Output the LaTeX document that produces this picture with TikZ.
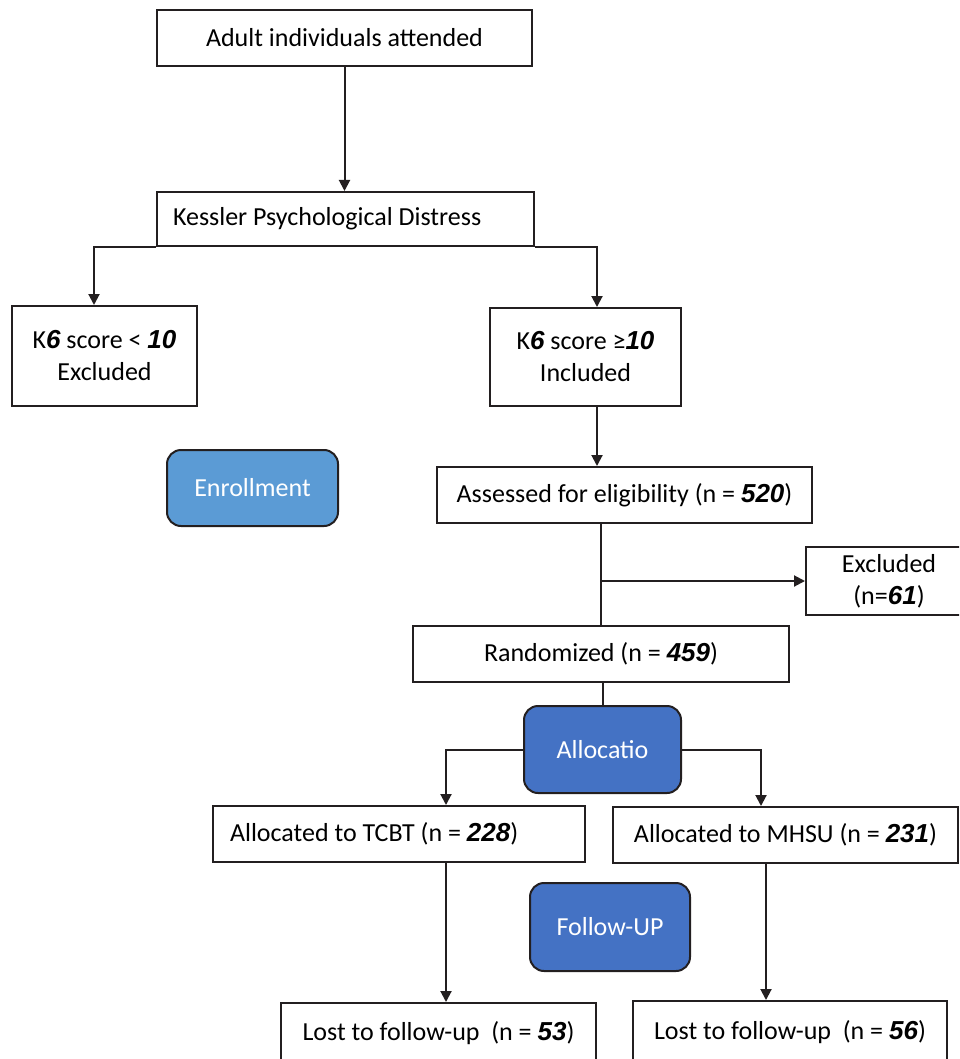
\documentclass[tikz,border=0pt]{standalone}
\usepackage{fontspec}
\setmainfont{Carlito}
\newfontfamily\numfont{Liberation Sans}
\usetikzlibrary{arrows.meta, positioning, calc}
\definecolor{dline} {RGB}{ 35, 31, 32}
\definecolor{lblue} {RGB}{ 91,155,213}
\definecolor{dblue} {RGB}{ 68,114,196}
\newcommand{\nb}[1]{{\numfont\bfseries\itshape #1}}
\tikzset{
  % plain white box
  WB/.style={rectangle,draw=dline,fill=white,minimum width=#1,
             align=center,inner sep=2pt,line width=1pt,
             font=\fontsize{13}{16}\selectfont},
  WB/.default=150pt,
  % blue stage label
  BL/.style={rectangle,rounded corners=7pt,draw=dline,fill=#1,
             text=white,align=center,line width=1pt,
             font=\fontsize{13}{16}\selectfont},
  BL/.default=dblue,
  % arrows
  Arr/.style ={-{Triangle[length=5.5pt,width=5.5pt]},line width=1pt,color=dline},
  Lin/.style ={line width=1.4pt,color=dline},
}
\begin{document}
\begin{tikzpicture}[x=0.5pt,y=-0.5pt]
  \useasboundingbox (0,0) rectangle (959,1059);
  \clip (0,0) rectangle (959,1059);
      \node[WB=187.5pt,minimum height=28pt] at (344.5,38) (adult)
            {Adult individuals attended};
      \node[WB,text width=172.5pt,align=flush left,inner xsep=8pt,
            minimum height=27pt] at (345.5,219) (kess)
            {Kessler Psychological Distress};
      \draw[Arr] (adult.south) -- (adult.south |- kess.north);
      \node[WB=92.5pt,minimum height=50pt] at (104.5,356) (low)
            {K\nb{6} score < \nb{10}\\Excluded};
      \node[WB=95.5pt,minimum height=49pt] at (585.5,357) (high)
            {K\nb{6} score ≥\nb{10}\\Included};
      \draw[Arr] (kess.south west) -| ($(low.north)+(-10.5,0)$);
      \draw[Arr] (kess.south east) -| ($(high.north)+(11.5,0)$);
      \node[BL=lblue,minimum width=85.5pt,minimum height=38pt]
            at (252.5,488) (enrol) {Enrollment};
      \node[WB=187.5pt,minimum height=28pt] at (624.5,495) (assess)
            {Assessed for eligibility (n = \nb{520})};
      \coordinate (hs) at ($(high.south)+(11.5,0)$);
      \draw[Arr] (hs) -- (hs |- assess.north);
      \node[WB=83pt,minimum height=34pt] at (889,581) (excl)
            {Excluded\\(n=\nb{61})};
      \node[WB=188pt,minimum height=28pt] at (601,654) (rand)
            {Randomized (n = \nb{459})};
      \draw[Lin] (rand.north |- assess.south) -- (rand.north);
      \draw[Arr] (rand.north |- excl.west) -- (excl.west);
      \node[BL,minimum width=78.5pt,minimum height=43.5pt]
            at (602.5,749.5) (alloc) {Allocatio};
      \draw[Lin,line width=1pt] (alloc.north |- rand.south) -- (alloc.north);
      \node[WB,text width=169pt,align=flush left,inner xsep=8.5pt,
            minimum height=28pt] at (399,834) (tcbt)
            {Allocated to TCBT (n = \nb{228})};
      \node[WB=172.5pt,minimum height=28pt] at (785.5,835) (mhsu)
            {Allocated to MHSU (n = \nb{231})};
      \draw[Arr] (alloc.west) -| ($(tcbt.north)+(47,0)$);
      \draw[Arr] (alloc.east) -| ($(mhsu.north)+(-24.5,0)$);
      \node[BL,minimum width=80pt,minimum height=44pt]
            at (610,927) (follow) {Follow-UP};
      \node[WB=157.5pt,minimum height=30.5pt] at (438.5,1033.5) (lost1)
            {Lost to follow-up~ (n = \nb{53})};
      \node[WB=157pt,minimum height=31pt] at (790,1032) (lost2)
            {Lost to follow-up~ (n = \nb{56})};
      \coordinate (ts) at ($(tcbt.south)+(47,0)$);
      \coordinate (ms) at ($(mhsu.south)+(-19.5,0)$);
      \draw[Arr] (ts) -- (ts |- lost1.north);
      \draw[Arr] (ms) -- (ms |- lost2.north);
\end{tikzpicture}
\end{document}
